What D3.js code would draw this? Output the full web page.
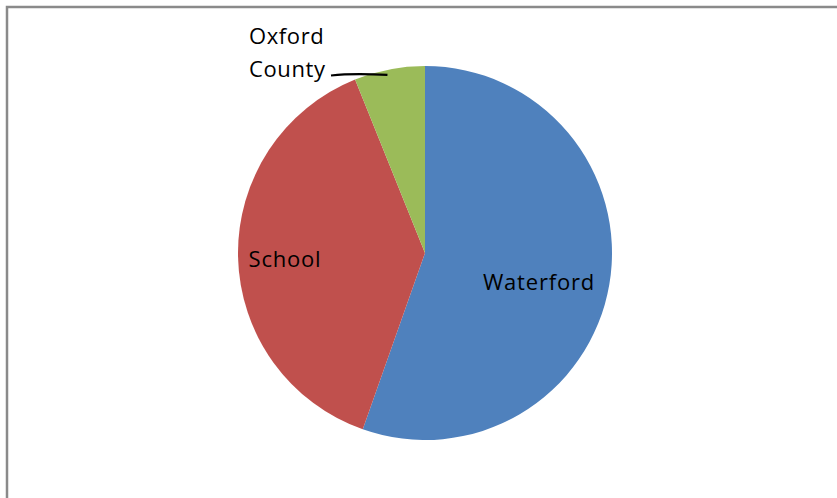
<!DOCTYPE html>
<html><head>
<meta charset="utf-8">
<title>Pie</title>
<style>
html, body { margin: 0; padding: 0; background: #fff; }
svg { display: block; }
text { font-family: "Open Sans", "Liberation Sans", sans-serif; fill: #000; }
</style>
<script src="https://cdnjs.cloudflare.com/ajax/libs/d3/7.8.5/d3.min.js"></script>
</head>
<body>
<svg id="chart" width="837" height="498"></svg>
<script>
// data (percent of whole)
const categories = ["Waterford", "School", "Oxford County"];
const values = [55.4, 38.5, 6.1];
const colors = ["#4F81BD", "#C0504D", "#9BBB59"];

const svg = d3.select("#chart");

// chart frame (only top and left edge visible)
svg.append("path")
  .attr("d", "M7,498 L7,7 L837,7")
  .attr("fill", "none")
  .attr("stroke", "#8a8a8a")
  .attr("stroke-width", 2.5);

const cx = 425, cy = 253, r = 187;

const pie = d3.pie().sort(null).value(d => d.v);
const arc = d3.arc().innerRadius(0).outerRadius(r);
const data = categories.map((c, i) => ({ name: c, v: values[i], color: colors[i] }));
const arcs = pie(data);

const g = svg.append("g").attr("transform", `translate(${cx},${cy})`);

g.selectAll("path.slice")
  .data(arcs)
  .join("path")
  .attr("class", "slice")
  .attr("d", arc)
  .attr("fill", d => d.data.color);

// inside labels (placed as in the picture)
const labelPos = [[114, 37], [-140, 14]];
g.selectAll("text.inside")
  .data(arcs.slice(0, 2))
  .join("text")
  .attr("class", "inside")
  .attr("x", (d, i) => labelPos[i][0])
  .attr("y", (d, i) => labelPos[i][1])
  .attr("text-anchor", "middle")
  .attr("font-size", 22)
  .attr("letter-spacing", 0.8)
  .text(d => d.data.name);

// outside label for the small slice with leader line
const small = arcs[2];
const mid = (small.startAngle + small.endAngle) / 2;
const edge = [Math.sin(mid) * r * 0.97, -Math.cos(mid) * r * 0.97];
g.append("path")
  .attr("d", `M${-94},${-177.5} Q${-72},${-180} ${edge[0] - 3},${edge[1]}`)
  .attr("fill", "none")
  .attr("stroke", "#000")
  .attr("stroke-width", 2.2);

const words = small.data.name.split(" ");
g.append("text")
  .attr("x", -176)
  .attr("y", -209)
  .attr("font-size", 22)
  .attr("letter-spacing", 0.6)
  .selectAll("tspan")
  .data(words)
  .join("tspan")
  .attr("x", -176)
  .attr("dy", (d, i) => i === 0 ? 0 : 33)
  .text(d => d);
</script>
</body>
</html>
